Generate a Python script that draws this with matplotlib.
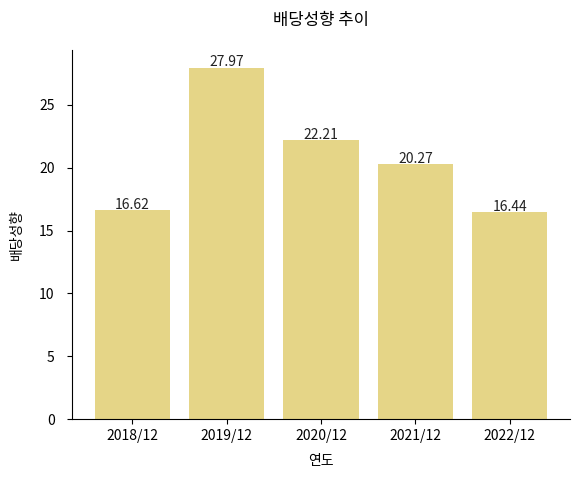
import matplotlib
matplotlib.use("Agg")
import matplotlib.pyplot as plt

years = ["2018/12", "2019/12", "2020/12", "2021/12", "2022/12"]
payout = [16.62, 27.97, 22.21, 20.27, 16.44]

plt.rcParams['font.family'] = ['Noto Sans CJK KR', 'DejaVu Sans']

fig = plt.figure(figsize=(5.78, 4.79), dpi=100)
ax = fig.add_axes([0.1246, 0.125, 0.8616, 0.7706])
bars = ax.bar(years, payout, color="#e5d587", width=0.8)
for b, v in zip(bars, payout):
    ax.text(b.get_x() + b.get_width() / 2, v + 0.1, f"{v:.2f}", ha="center", va="baseline",
            fontsize=10, color="#222222")
ax.spines['top'].set_visible(False)
ax.spines['right'].set_visible(False)
ax.set_title("배당성향 추이", fontsize=12, pad=18)
ax.set_xlabel("연도", fontsize=10, labelpad=8)
ax.set_ylabel("배당성향", fontsize=10, labelpad=11)
ax.tick_params(labelsize=10)
ax.tick_params(axis='y', pad=9)
fig.savefig("out.png", dpi=100)
